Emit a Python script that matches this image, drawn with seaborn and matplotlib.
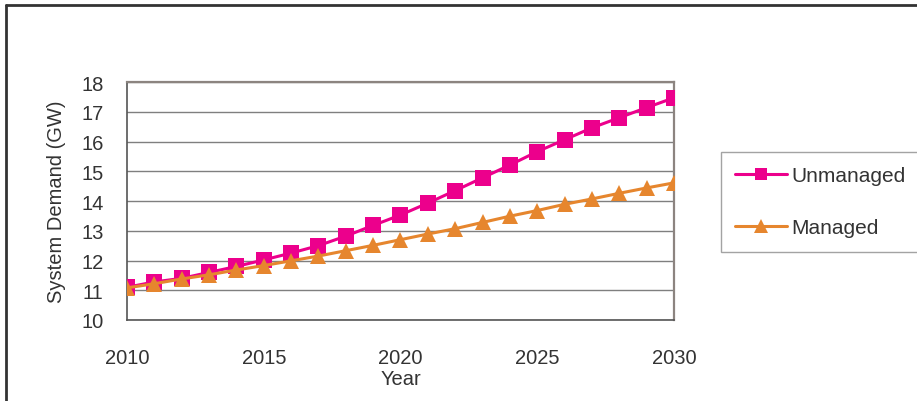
import matplotlib
matplotlib.use("Agg")
import matplotlib.pyplot as plt
from matplotlib.lines import Line2D
import pandas as pd
import seaborn as sns

years = list(range(2010, 2031))
unmanaged = [11.10, 11.28, 11.40, 11.60, 11.80, 12.02, 12.25, 12.50, 12.82, 13.18,
             13.53, 13.93, 14.35, 14.78, 15.21, 15.66, 16.06, 16.46, 16.80, 17.14, 17.47]
managed = [11.08, 11.22, 11.38, 11.52, 11.68, 11.83, 11.99, 12.15, 12.33, 12.51,
           12.70, 12.89, 13.07, 13.28, 13.49, 13.68, 13.89, 14.07, 14.26, 14.44, 14.61]
series_names = ["Unmanaged", "Managed"]
x_ticks = [2010, 2015, 2020, 2025, 2030]
y_ticks = list(range(10, 19))

df = pd.DataFrame({
    "Year": years * 2,
    "Demand": unmanaged + managed,
    "Series": [series_names[0]] * len(years) + [series_names[1]] * len(years),
})

sns.set_theme(style="white")
plt.rcParams["font.family"] = ["Liberation Sans", "DejaVu Sans"]

text_color = "#333333"
pink = "#EC008C"
orange = "#E6862E"

fig = plt.figure(figsize=(9.17, 4.02), dpi=100)
ax = fig.add_axes([0.1385, 0.2015, 0.5965, 0.592])

sns.lineplot(data=df, x="Year", y="Demand", hue="Series", style="Series",
             palette={"Unmanaged": pink, "Managed": orange},
             markers={"Unmanaged": "s", "Managed": "^"},
             dashes=False, markersize=11, markeredgewidth=0,
             linewidth=2.2, ax=ax, legend=False, zorder=3)

ax.set_xlim(2010, 2030)
ax.set_ylim(10, 18)
ax.set_xticks(x_ticks)
ax.set_yticks(y_ticks)
ax.yaxis.grid(True, color="#7f7f7f", linewidth=1.0)
ax.xaxis.grid(False)
ax.set_axisbelow(True)

for side in ["top", "right"]:
    ax.spines[side].set_color("#8c8480")
    ax.spines[side].set_linewidth(1.6)
for side in ["left", "bottom"]:
    ax.spines[side].set_color("#555555")
    ax.spines[side].set_linewidth(1.2)

ax.tick_params(axis="both", direction="out", length=5, width=1,
               color="#666666", labelsize=14.5, labelcolor=text_color)
ax.tick_params(axis="x", pad=15.5)
ax.tick_params(axis="y", pad=12)

ax.set_xlabel("Year", fontsize=14.5, color=text_color, labelpad=1)
ax.set_ylabel("System Demand (GW)", fontsize=14.5, color=text_color, labelpad=11)

handles = [
    Line2D([], [], color=pink, marker="s", markersize=9, linewidth=2.2, markeredgewidth=0),
    Line2D([], [], color=orange, marker="^", markersize=10, linewidth=2.2, markeredgewidth=0),
]
leg = fig.legend(handles, series_names, loc="center left",
                 bbox_to_anchor=(0.786, 0.4955), fontsize=15,
                 frameon=True, fancybox=False, edgecolor="#8c8c8c",
                 handlelength=2.5, handletextpad=0.2, labelspacing=1.6,
                 borderpad=0.7, borderaxespad=0)
leg.get_frame().set_linewidth(1.0)
for t in leg.get_texts():
    t.set_color(text_color)

# outer frame (top and left edges)
fig.add_artist(Line2D([0.007, 1.0], [0.984, 0.984], transform=fig.transFigure,
                      color="#333333", linewidth=2))
fig.add_artist(Line2D([0.007, 0.007], [0.0, 0.984], transform=fig.transFigure,
                      color="#333333", linewidth=2))

fig.savefig("out.png", dpi=100)
